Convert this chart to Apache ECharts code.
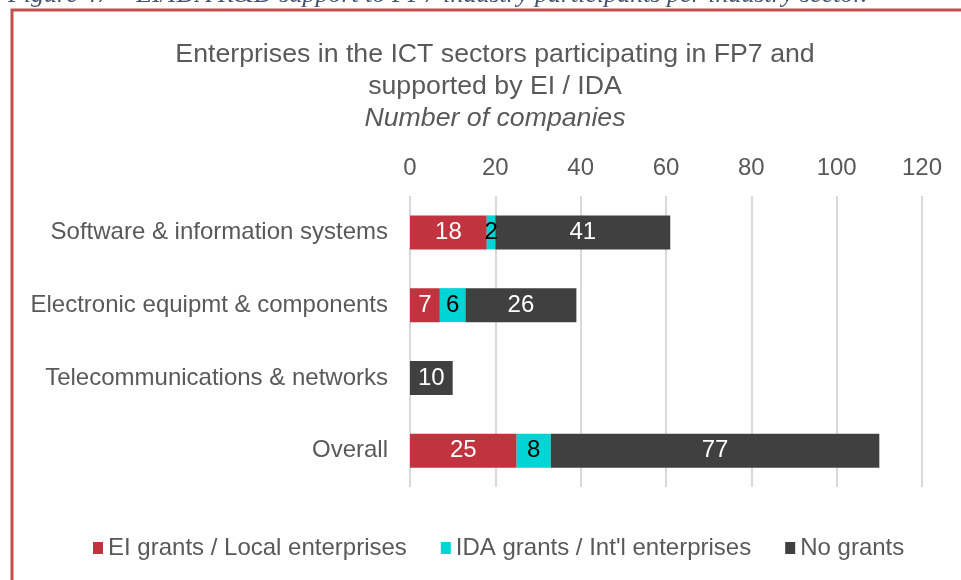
<!DOCTYPE html>
<html>
<head>
<meta charset="utf-8">
<script src="https://cdn.jsdelivr.net/npm/echarts@6/dist/echarts.min.js"></script>
<style>
  html, body { margin: 0; padding: 0; background: #fff; }
  #chart { width: 961px; height: 580px; }
</style>
</head>
<body>
<div id="chart"></div>
<script>
// categories (top to bottom)
const sectors = ['Software & information systems', 'Electronic equipmt & components', 'Telecommunications & networks', 'Overall']
// series values
const eiGrants = [18, 7, 0, 25]
const idaGrants = [2, 6, 0, 8]
const noGrants = [41, 26, 10, 77]
// x axis ticks
const xTicks = [0, 20, 40, 60, 80, 100, 120]

const grey = '#595959'
const font = 'Liberation Sans, Arial, sans-serif'

function barSeries(name, data, color, labelColor) {
  return {
    name: name,
    type: 'bar',
    stack: 'total',
    barWidth: 34,
    data: data,
    itemStyle: { color: color },
    label: {
      show: true,
      position: 'inside',
      color: labelColor,
      fontSize: 24,
      fontFamily: font,
      formatter: p => (p.value ? p.value : '')
    }
  }
}

const chart = echarts.init(document.getElementById('chart'))
chart.setOption({
  animation: false,
  title: {
    text: 'Enterprises in the ICT sectors participating in FP7 and\nsupported by EI / IDA',
    subtext: 'Number of companies',
    left: 490,
    top: 34,
    textAlign: 'center',
    itemGap: 0,
    textStyle: { color: grey, fontSize: 26.7, fontWeight: 'normal', fontFamily: font, lineHeight: 32 },
    subtextStyle: { color: grey, fontSize: 26.7, fontStyle: 'italic', fontFamily: font, lineHeight: 32 }
  },
  legend: {
    left: 88,
    top: 531,
    itemWidth: 10,
    itemHeight: 12,
    itemGap: 34,
    icon: 'rect',
    textStyle: { color: grey, fontSize: 24, fontFamily: font },
    data: ['EI grants / Local enterprises', 'IDA grants / Int\'l enterprises', 'No grants']
  },
  grid: { left: 410, right: 39, top: 196, bottom: 93 },
  xAxis: {
    type: 'value',
    position: 'top',
    min: xTicks[0],
    max: xTicks[xTicks.length - 1],
    interval: 20,
    axisLine: { show: false },
    axisTick: { show: false },
    axisLabel: { color: grey, fontSize: 24, fontFamily: font, margin: 16 },
    splitLine: { lineStyle: { color: '#D9D9D9', width: 2 } }
  },
  yAxis: {
    type: 'category',
    inverse: true,
    data: sectors,
    axisLine: { show: false },
    axisTick: { show: false },
    axisLabel: { color: grey, fontSize: 24, fontFamily: font, margin: 22 }
  },
  series: [
    barSeries('EI grants / Local enterprises', eiGrants, '#C0333F', '#fff'),
    barSeries('IDA grants / Int\'l enterprises', idaGrants, '#00D5D5', '#000'),
    barSeries('No grants', noGrants, '#404040', '#fff')
  ],
  graphic: [
    {
      type: 'text',
      left: 8,
      top: -18,
      style: {
        text: 'Figure 47 \u2013 EI/IDA R&D support to FP7 industry participants per industry sector.',
        fill: '#44546A',
        font: 'italic 26px "Liberation Serif", "DejaVu Serif", serif'
      }
    },
    {
      type: 'polyline',
      shape: { points: [[12, 600], [12, 10], [980, 10]] },
      style: { stroke: '#C0504D', lineWidth: 3, fill: null }
    }
  ]
})

window.addEventListener('resize', () => chart.resize())
</script>
</body>
</html>
